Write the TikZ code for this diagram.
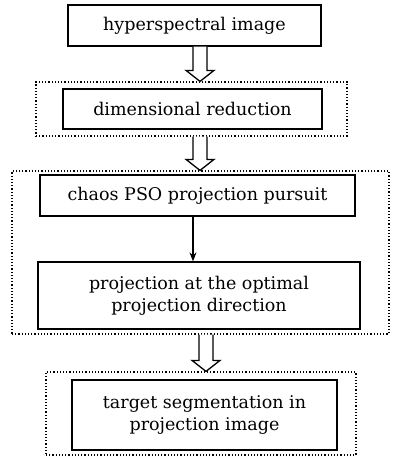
\documentclass[tikz,border=0pt]{standalone}
\usepackage{fontspec}
\setmainfont{DejaVu Serif}
\usetikzlibrary{calc,arrows.meta}
\tikzset{
  solidbox/.style={draw, line width=1.3pt, inner sep=0pt, align=center, font=\fontsize{17.5}{22}\selectfont},
  dotbox/.style={draw, dotted, line width=1.2pt, inner sep=0pt},
  hollow/.style={draw, line width=1.3pt, fill=white, line join=miter},
}
\newcommand\hollowarr[3]{%
  \path[hollow] ($(#1 |- #2)+(-7,0)$) -- ($(#1 |- #3)+(-7,-11)$) -- ($(#1 |- #3)+(-14,-11)$) -- (#1 |- #3) -- ($(#1 |- #3)+(14,-11)$) -- ($(#1 |- #3)+(7,-11)$) -- ($(#1 |- #2)+(7,0)$);}
\begin{document}
\begin{tikzpicture}[x=1pt,y=-1pt]
\useasboundingbox (0,0) rectangle (393,459);
\node[dotbox, minimum width=311pt, minimum height=54pt] (d1) at (191.5,109) {};
\node[dotbox, minimum width=377pt, minimum height=163pt] (d2) at (200.5,252.5) {};
\node[dotbox, minimum width=310pt, minimum height=83pt] (d3) at (201,413.5) {};
\node[solidbox, minimum width=253pt, minimum height=41pt] (b1) at (194.5,25.5) {hyperspectral image};
\node[solidbox, minimum width=259pt, minimum height=40pt] (b2) at (192.5,109) {dimensional reduction};
\node[solidbox, minimum width=315pt, minimum height=41pt] (b3) at (197.5,195.5) {chaos PSO projection pursuit};
\node[solidbox, minimum width=322pt, minimum height=67pt] (b4) at (199,295.5) {projection at the optimal\\projection direction};
\node[solidbox, minimum width=265pt, minimum height=70pt] (b5) at (204.5,415) {target segmentation in\\projection image};
\coordinate (ax1) at (200,0);
\coordinate (ax3) at (206,0);
\coordinate (ax2) at (193,0);
\hollowarr{ax1}{b1.south}{d1.north}
\hollowarr{ax1}{d1.south}{d2.north}
\hollowarr{ax3}{d2.south}{d3.north}
\draw[line width=1.2pt, -{Stealth[length=9pt,width=7pt]}] (ax2 |- b3.south) -- (ax2 |- b4.north);
\end{tikzpicture}
\end{document}
